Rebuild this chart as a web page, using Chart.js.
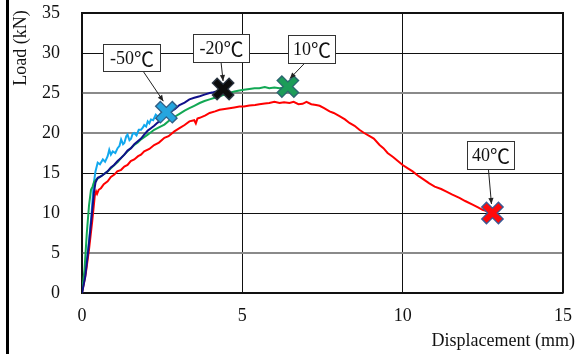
<!DOCTYPE html>
<html>
<head>
<meta charset="utf-8">
<script src="https://cdn.jsdelivr.net/npm/chart.js@4/dist/chart.umd.min.js"></script>
<style>
  html, body { margin: 0; padding: 0; background: #fff; }
  #wrap { width: 584px; height: 354px; }
</style>
</head>
<body>
<div id="wrap"><canvas id="c" width="584" height="354"></canvas></div>
<script>
// Load–displacement curves at four test temperatures
const seriesTemps = ['-50', '-20', '10', '40'];
const tempUnit = '℃';

const dispM50 = [0, 0.12, 0.22, 0.30, 0.36, 0.42, 0.49, 0.56, 0.65, 0.72, 0.80, 0.85, 0.90, 0.96, 1.04, 1.11, 1.17, 1.22, 1.28, 1.32, 1.38, 1.42, 1.48, 1.53, 1.58, 1.63, 1.70, 1.77, 1.84, 1.90, 1.94, 2.00, 2.05, 2.10, 2.15, 2.22, 2.30, 2.38, 2.45, 2.55, 2.63];
const loadM50 = [0, 3.0, 6.5, 10.0, 13.5, 15.2, 16.3, 16.1, 16.7, 16.4, 17.1, 17.9, 17.3, 17.7, 17.5, 18.1, 18.4, 19.2, 18.6, 18.75, 19.6, 19.8, 19.1, 19.3, 19.9, 20.0, 19.7, 20.4, 20.4, 20.7, 21.0, 20.8, 21.45, 21.2, 21.7, 21.6, 22.3, 22.0, 22.4, 22.6, 22.6];

const dispM20 = [0, 0.10, 0.20, 0.30, 0.37, 0.42, 0.49, 0.60, 0.70, 0.80, 0.90, 1.00, 1.11, 1.20, 1.32, 1.42, 1.53, 1.63, 1.73, 1.84, 1.94, 2.05, 2.15, 2.25, 2.36, 2.50, 2.62, 2.75, 2.90, 3.04, 3.20, 3.35, 3.50, 3.67, 3.82, 3.98, 4.10, 4.19, 4.30, 4.40];
const loadM20 = [0, 2.0, 5.5, 9.5, 12.5, 13.8, 14.4, 14.6, 14.9, 15.2, 15.7, 16.0, 16.5, 16.8, 17.3, 17.8, 18.1, 18.6, 18.95, 19.3, 19.8, 20.3, 20.6, 20.9, 21.3, 21.7, 22.2, 22.6, 23.0, 23.5, 23.8, 24.2, 24.4, 24.6, 24.8, 25.0, 25.1, 25.2, 25.3, 25.5];

const disp10 = [0, 0.08, 0.15, 0.22, 0.28, 0.33, 0.38, 0.44, 0.52, 0.59, 0.70, 0.80, 0.90, 1.01, 1.12, 1.22, 1.32, 1.42, 1.52, 1.63, 1.74, 1.84, 1.95, 2.05, 2.15, 2.25, 2.40, 2.57, 2.73, 2.88, 3.04, 3.20, 3.35, 3.50, 3.67, 3.82, 3.98, 4.14, 4.29, 4.45, 4.60, 4.75, 4.91, 5.05, 5.22, 5.38, 5.53, 5.70, 5.84, 6.00, 6.16, 6.30, 6.42];
const load10 = [0, 3.0, 7.5, 11.0, 12.9, 13.3, 13.9, 14.2, 14.4, 14.6, 14.9, 15.2, 15.6, 16.0, 16.4, 16.9, 17.3, 17.7, 18.1, 18.5, 18.8, 19.2, 19.5, 19.8, 20.1, 20.4, 20.7, 21.05, 21.6, 22.0, 22.4, 22.8, 23.1, 23.4, 23.75, 24.0, 24.2, 24.4, 24.6, 24.8, 25.0, 25.2, 25.3, 25.4, 25.5, 25.6, 25.6, 25.75, 25.6, 25.7, 25.6, 25.7, 25.8];

const disp40 = [0, 0.12, 0.22, 0.32, 0.40, 0.44, 0.47, 0.52, 0.59, 0.68, 0.80, 0.90, 1.01, 1.10, 1.22, 1.32, 1.42, 1.52, 1.63, 1.75, 1.84, 1.94, 2.10, 2.25, 2.40, 2.57, 2.70, 2.88, 3.04, 3.20, 3.35, 3.50, 3.55, 3.60, 3.67, 3.85, 3.98, 4.15, 4.29, 4.45, 4.60, 4.75, 4.91, 5.05, 5.22, 5.40, 5.53, 5.70, 5.84, 6.00, 6.16, 6.30, 6.47, 6.60, 6.75, 6.88, 7.00, 7.15, 7.30, 7.41, 7.55, 7.72, 7.85, 8.03, 8.20, 8.34, 8.50, 8.65, 8.80, 8.97, 9.10, 9.28, 9.40, 9.53, 9.70, 9.85, 10.00, 10.15, 10.31, 10.50, 10.65, 10.83, 11.00, 11.20, 11.35, 11.55, 11.77, 11.95, 12.18, 12.35, 12.49, 12.65, 12.80];
const load40 = [0, 2.5, 5.5, 9.0, 12.2, 12.7, 12.4, 12.9, 13.1, 13.6, 13.95, 14.5, 14.8, 15.2, 15.4, 15.8, 16.0, 16.5, 16.7, 17.1, 17.3, 17.7, 18.0, 18.5, 18.8, 19.4, 19.6, 20.2, 20.6, 21.0, 21.45, 21.6, 21.2, 21.8, 21.9, 22.2, 22.5, 22.7, 22.9, 23.0, 23.1, 23.2, 23.3, 23.3, 23.45, 23.5, 23.6, 23.7, 23.75, 23.9, 23.75, 23.85, 23.75, 23.9, 23.6, 23.65, 23.9, 23.6, 23.5, 23.4, 23.1, 22.7, 22.5, 22.1, 21.7, 21.25, 20.9, 20.4, 20.0, 19.6, 19.3, 18.5, 18.1, 17.5, 17.0, 16.5, 16.0, 15.6, 15.2, 14.6, 14.2, 13.7, 13.3, 13.0, 12.7, 12.3, 11.9, 11.5, 11.05, 10.7, 10.4, 10.2, 10.0];

const xTicks = [0, 5, 10, 15];
const yTicks = [0, 5, 10, 15, 20, 25, 30, 35];
const xTitle = 'Displacement (mm)';
const yTitle = 'Load (kN)';

const FONT = "'Liberation Serif', 'Times New Roman', serif";
const CJK = "'Noto Sans CJK JP', 'Noto Sans CJK SC', sans-serif";

const lineColors = ['#12a8ee', '#10108a', '#12a854', '#ff0000'];
const markColors = ['#25a5df', '#0c0c0c', '#1c9c58', '#ff0a0a'];
const markEdges = ['#2f5f86', '#2a3440', '#2b6670', '#3d5a94'];

const xs = [dispM50, dispM20, disp10, disp40];
const ys = [loadM50, loadM20, load10, load40];

function pts(a, b) { return a.map((v, i) => ({ x: v, y: b[i] })); }

const datasets = [];
// curves (drawn beneath the end markers); red lowest
const curveOrder = [3, 0, 1, 2];
for (let i = 0; i < 4; i++) {
  datasets.push({
    label: seriesTemps[i] + tempUnit,
    data: pts(xs[i], ys[i]),
    borderColor: lineColors[i],
    borderWidth: 2,
    pointRadius: 0,
    tension: 0,
    fill: false,
    order: 10 + curveOrder[i]
  });
}
// end-of-test markers: outline layer then colour layer
for (let i = 0; i < 4; i++) {
  const n = xs[i].length - 1;
  const end = [{ x: xs[i][n], y: ys[i][n] }];
  datasets.push({
    label: seriesTemps[i] + ' end edge',
    data: end,
    showLine: false,
    pointStyle: 'crossRot',
    pointRadius: 12.5,
    pointBorderWidth: 8,
    pointBorderColor: markEdges[i],
    pointBackgroundColor: markEdges[i],
    order: 2
  });
  datasets.push({
    label: seriesTemps[i] + ' end',
    data: end,
    showLine: false,
    pointStyle: 'crossRot',
    pointRadius: 11,
    pointBorderWidth: 5.5,
    pointBorderColor: markColors[i],
    pointBackgroundColor: markColors[i],
    order: 1
  });
}

// callout boxes: offsets from the marker centre (px)
const callouts = [
  { dx: -35, dy: -55, w: 57, h: 27, tail: 12, tip: [-3, -11] },
  { dx: -2, dy: -41, w: 56, h: 28, tail: 0, tip: [0, -8] },
  { dx: 24, dy: -38, w: 47, h: 28, tail: -7.5, tip: [2, -8] },
  { dx: -2, dy: -58, w: 47, h: 28, tail: -2, tip: [-1, -9] }
];

const decor = {
  id: 'decor',
  beforeDraw(chart) {
    const ctx = chart.ctx;
    ctx.save();
    ctx.fillStyle = '#fff';
    ctx.fillRect(0, 0, chart.width, chart.height);
    ctx.restore();
  },
  afterDatasetsDraw(chart) {
    const ctx = chart.ctx;
    const a = chart.chartArea;
    const sx = chart.scales.x, sy = chart.scales.y;
    ctx.save();
    // frame top/right
    ctx.strokeStyle = '#111';
    ctx.lineWidth = 2;
    ctx.beginPath();
    ctx.moveTo(a.left, a.top);
    ctx.lineTo(a.right, a.top);
    ctx.lineTo(a.right, a.bottom);
    ctx.stroke();
    // left figure edge
    ctx.fillStyle = '#000';
    ctx.fillRect(6, 0, 3, chart.height);

    // callouts
    ctx.textBaseline = 'middle';
    for (let i = 0; i < 4; i++) {
      const n = xs[i].length - 1;
      const mx = sx.getPixelForValue(xs[i][n]);
      const my = sy.getPixelForValue(ys[i][n]);
      const c = callouts[i];
      const cx = mx + c.dx, cy = my + c.dy;
      const bx = Math.round(cx - c.w / 2) + 0.5, by = Math.round(cy - c.h / 2) + 0.5;
      // leader with arrowhead
      const x0 = cx + c.tail, y0 = by + c.h;
      const x1 = mx + c.tip[0], y1 = my + c.tip[1];
      ctx.strokeStyle = '#222';
      ctx.lineWidth = 1;
      ctx.beginPath();
      ctx.moveTo(x0, y0);
      ctx.lineTo(x1, y1);
      ctx.stroke();
      const ang = Math.atan2(y1 - y0, x1 - x0);
      const L = 6, W = 2.6;
      ctx.fillStyle = '#222';
      ctx.beginPath();
      ctx.moveTo(x1, y1);
      ctx.lineTo(x1 - L * Math.cos(ang) + W * Math.sin(ang), y1 - L * Math.sin(ang) - W * Math.cos(ang));
      ctx.lineTo(x1 - L * Math.cos(ang) - W * Math.sin(ang), y1 - L * Math.sin(ang) + W * Math.cos(ang));
      ctx.closePath();
      ctx.fill();
      // box
      ctx.fillStyle = '#fff';
      ctx.fillRect(bx, by, c.w, c.h);
      ctx.strokeStyle = '#333';
      ctx.strokeRect(bx, by, c.w, c.h);
      // label: number in serif, unit glyph in CJK face
      ctx.fillStyle = '#111';
      ctx.font = '18px ' + FONT;
      const wNum = ctx.measureText(seriesTemps[i]).width;
      ctx.font = '20px ' + CJK;
      const wUnit = ctx.measureText(tempUnit).width;
      const tx = bx + c.w / 2 - (wNum + wUnit) / 2;
      const ty = by + c.h / 2 + 1;
      ctx.textAlign = 'left';
      ctx.font = '18px ' + FONT;
      ctx.fillText(seriesTemps[i], tx, ty);
      ctx.font = '20px ' + CJK;
      ctx.fillText(tempUnit, tx + wNum, ty);
    }

    // axis titles
    ctx.fillStyle = '#111';
    ctx.font = '18px ' + FONT;
    ctx.textAlign = 'right';
    ctx.textBaseline = 'middle';
    ctx.fillText(xTitle, 575, 341);
    ctx.save();
    ctx.translate(21, 48);
    ctx.rotate(-Math.PI / 2);
    ctx.textAlign = 'center';
    ctx.fillText(yTitle, 0, 0);
    ctx.restore();
    ctx.restore();
  }
};

const greyY = [5, 20, 25];

new Chart(document.getElementById('c'), {
  type: 'line',
  data: { datasets },
  options: {
    responsive: false,
    animation: false,
    devicePixelRatio: 1,
    layout: { autoPadding: false, padding: { top: 13, right: 21, bottom: 0, left: 0 } },
    plugins: { legend: { display: false }, tooltip: { enabled: false } },
    scales: {
      x: {
        type: 'linear',
        min: 0, max: 15,
        afterBuildTicks: s => { s.ticks = xTicks.map(v => ({ value: v })); },
        afterFit: s => { s.height = 61; s.paddingLeft = 0; s.paddingRight = 0; },
        ticks: { color: '#111', font: { family: FONT, size: 18 }, padding: 12, maxRotation: 0 },
        grid: { color: '#111', lineWidth: 1, drawTicks: false },
        border: { display: true, color: '#111', width: 1.5 }
      },
      y: {
        type: 'linear',
        min: 0, max: 35,
        afterBuildTicks: s => { s.ticks = yTicks.map(v => ({ value: v })); },
        afterFit: s => { s.width = 82; s.paddingTop = 0; s.paddingBottom = 0; },
        ticks: { color: '#111', font: { family: FONT, size: 18 }, padding: 22 },
        grid: {
          color: c => (greyY.includes(c.tick && c.tick.value) ? '#8a8a8a' : '#111'),
          lineWidth: c => (greyY.includes(c.tick && c.tick.value) ? 2 : 1),
          drawTicks: false
        },
        border: { display: true, color: '#111', width: 1.5 }
      }
    }
  },
  plugins: [decor]
});
</script>
</body>
</html>
